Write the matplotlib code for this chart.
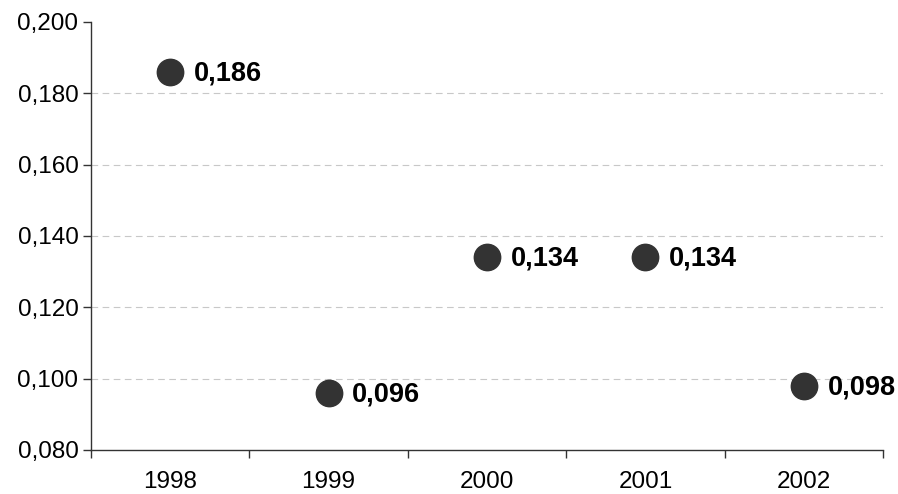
import matplotlib.pyplot as plt
import numpy as np
from matplotlib.ticker import FixedLocator, FuncFormatter

years = ['1998', '1999', '2000', '2001', '2002']
values = [0.186, 0.096, 0.134, 0.134, 0.098]

plt.rcParams['font.family'] = ['Liberation Sans', 'DejaVu Sans']

fig = plt.figure(figsize=(8.98, 4.94), dpi=100, facecolor='white')
ax = fig.add_axes([0.1013, 0.0891, 0.882, 0.8664])

x = np.arange(len(years))
ax.plot(x, values, linestyle='none', marker='o', markersize=19,
        color='#333333', zorder=3, clip_on=False)

for xi, v in zip(x, values):
    ax.annotate(f'{v:.3f}'.replace('.', ','), (xi, v), xytext=(17, -1),
                textcoords='offset points', ha='left', va='center',
                fontsize=19.5, fontweight='bold', color='black')

ax.set_xlim(-0.5, len(years) - 0.5)
ax.set_ylim(0.080, 0.200)

# y grid and ticks
yticks = np.arange(0.080, 0.2001, 0.020)
ax.set_yticks(yticks)
ax.yaxis.set_major_formatter(FuncFormatter(lambda v, p: f'{v:.3f}'.replace('.', ',')))
for yv in yticks[1:-1]:
    ax.axhline(yv, color='#c8c8c8', linewidth=0.8, linestyle=(0, (6, 4)), zorder=1)

# category labels centred, tick marks on the boundaries
ax.set_xticks(x)
ax.set_xticklabels(years)
ax.xaxis.set_minor_locator(FixedLocator(np.arange(-0.5, len(years), 1.0)))
ax.tick_params(axis='x', which='major', length=0, pad=15, labelsize=17.5)
ax.tick_params(axis='x', which='minor', length=6, width=1, color='#333333')
ax.tick_params(axis='y', length=6, width=1, color='#333333', labelsize=17.5, pad=3)

for side in ('top', 'right'):
    ax.spines[side].set_visible(False)
for side in ('left', 'bottom'):
    ax.spines[side].set_color('#333333')
    ax.spines[side].set_linewidth(1)

fig.savefig('out.png', dpi=100, facecolor='white')
